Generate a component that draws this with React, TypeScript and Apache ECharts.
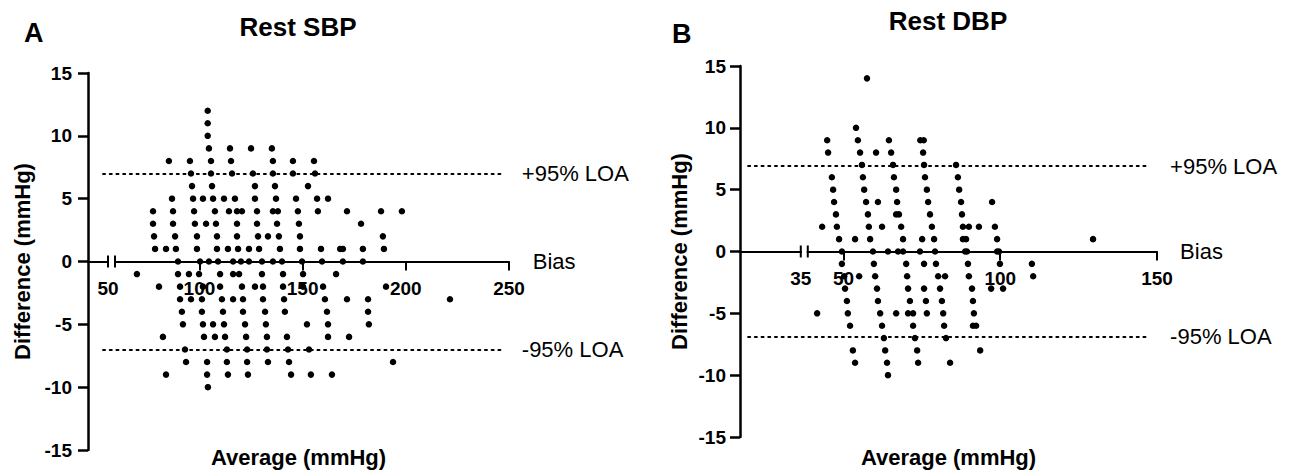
import { useEffect, useRef } from "react";
import * as echarts from "echarts";

const FONT = '"Liberation Sans", Arial, Helvetica, sans-serif';

// Panel A – Rest SBP: [average, difference]
const sbpPoints: [number, number][] = [
  [104, 12], [104, 11], [104, 10],
  [104.6, 9], [114.8, 9], [125, 9], [135.1, 9],
  [85.2, 8], [95.4, 8], [105.6, 8], [115.3, 8], [135.6, 8], [145.3, 8], [155.5, 8],
  [95.9, 7], [105.6, 7], [115.8, 7], [125.9, 7], [135.6, 7], [145.3, 7], [156, 7],
  [96.4, 6], [106.1, 6], [126.9, 6], [136.6, 6], [152.6, 6],
  [86.7, 5], [96.9, 5], [101.7, 5], [106.6, 5], [111.9, 5], [117.2, 5], [126.9, 5], [137.1, 5], [146.8, 5], [157, 5], [162.3, 5],
  [77.5, 4], [87.2, 4], [97.4, 4], [107.5, 4], [114.3, 4], [118.2, 4], [120.6, 4], [127.9, 4], [135.6, 4], [138, 4], [147.7, 4], [157.4, 4], [171.5, 4], [188, 4], [198.1, 4],
  [77.5, 3], [87.2, 3], [97.8, 3], [103.2, 3], [108, 3], [118.2, 3], [127.9, 3], [137.6, 3], [148.2, 3], [178.3, 3],
  [78, 2], [88.2, 2], [98.8, 2], [108.5, 2], [118.2, 2], [128.4, 2], [133.2, 2], [138.5, 2], [148.7, 2], [188.9, 2],
  [78.5, 1], [83.8, 1], [88.6, 1], [98.8, 1], [108.5, 1], [113.8, 1], [118.7, 1], [124, 1], [128.9, 1], [139, 1], [148.7, 1], [158.9, 1], [168.2, 1], [169.5, 1], [179.2, 1], [189.4, 1],
  [89.6, 0], [100.3, 0], [104.6, 0], [109, 0], [116.3, 0], [120.1, 0], [124, 0], [130.3, 0], [135.6, 0], [140, 0], [149.7, 0], [159.4, 0], [169.5, 0], [179.2, 0],
  [69.7, -1], [89.6, -1], [94.9, -1], [99.8, -1], [110, -1], [116.3, -1], [119.2, -1], [130.3, -1], [140.5, -1], [150.2, -1], [166.2, -1],
  [80.4, -2], [90.6, -2], [101.7, -2], [110, -2], [120.6, -2], [126.9, -2], [130.8, -2], [140.5, -2], [150.2, -2], [159.9, -2], [190.4, -2],
  [90.6, -3], [95.9, -3], [101.2, -3], [110.9, -3], [116.3, -3], [121.1, -3], [130.8, -3], [141, -3], [160.8, -3], [171.5, -3], [181.7, -3], [221.4, -3],
  [91.5, -4], [101.2, -4], [111.4, -4], [121.1, -4], [131.8, -4], [141.4, -4], [161.8, -4], [181.7, -4],
  [92, -5], [101.7, -5], [106.6, -5], [111.9, -5], [122.1, -5], [132.2, -5], [152.1, -5], [162.3, -5], [182.1, -5],
  [82.3, -6], [102.2, -6], [107.5, -6], [112.4, -6], [122.6, -6], [132.7, -6], [142.4, -6], [162.3, -6], [172.5, -6],
  [93, -7], [113.3, -7], [123.1, -7], [132.7, -7], [142.9, -7], [153.1, -7],
  [93.5, -8], [103.7, -8], [113.3, -8], [123.1, -8], [133.2, -8], [143.4, -8], [193.8, -8],
  [83.8, -9], [103.7, -9], [113.8, -9], [123.5, -9], [144.4, -9], [154, -9], [164.2, -9],
  [104.1, -10],
];

// Panel B – Rest DBP: [average, difference]
const dbpPoints: [number, number][] = [
  [57.5, 14],
  [54, 10],
  [44.8, 9], [54.6, 9], [64.5, 9], [74.5, 9], [75.6, 9],
  [45.1, 8], [55.3, 8], [60.4, 8], [65.2, 8], [75.4, 8],
  [55.9, 7], [65.8, 7], [75.7, 7], [85.9, 7],
  [46.3, 6], [56.2, 6], [66.1, 6], [76, 6], [86.5, 6],
  [46.7, 5], [56.6, 5], [66.8, 5], [76.6, 5], [86.9, 5],
  [47, 4], [57.2, 4], [61, 4], [67.1, 4], [77, 4], [87.5, 4], [97.4, 4],
  [47.6, 3], [57.8, 3], [66.8, 3], [67.7, 3], [77.6, 3], [87.8, 3],
  [43.2, 2], [47.9, 2], [58.1, 2], [62.3, 2], [68.4, 2], [78.2, 2], [88.1, 2], [90, 2], [93.2, 2], [98.3, 2],
  [48.6, 1], [53.7, 1], [58.5, 1], [69, 1], [75.1, 1], [78.9, 1], [88.1, 1], [89.1, 1], [99, 1], [129.6, 1],
  [49.5, 0], [59.4, 0], [64.2, 0], [67.4, 0], [69, 0], [74.4, 0], [79.2, 0], [88.8, 0], [89.4, 0], [99, 0], [99.6, 0],
  [49.5, -1], [59.7, -1], [70, -1], [75.7, -1], [79.5, -1], [89.7, -1], [99.9, -1], [110.1, -1],
  [50.2, -2], [55, -2], [60.1, -2], [70.3, -2], [80.2, -2], [82.4, -2], [90, -2], [110.5, -2],
  [50.5, -3], [60.7, -3], [70.6, -3], [75.7, -3], [80.8, -3], [91, -3], [97.1, -3], [100.9, -3],
  [51.1, -4], [61, -4], [71.2, -4], [76.3, -4], [81.4, -4], [91.3, -4],
  [41.6, -5], [51.4, -5], [61.7, -5], [66.8, -5], [70.6, -5], [72.2, -5], [76.6, -5], [81.8, -5], [91.6, -5],
  [52.1, -6], [62.3, -6], [72.2, -6], [82.1, -6], [91.3, -6], [92.3, -6],
  [62.9, -7], [72.8, -7], [82.7, -7],
  [53, -8], [63.3, -8], [73.5, -8], [93.6, -8],
  [53.7, -9], [63.9, -9], [73.8, -9], [84, -9],
  [64.2, -10],
];

// Reference lines (Bland–Altman)
const sbpUpperLOA = 7;
const sbpBias = 0;
const sbpLowerLOA = -7;
const dbpUpperLOA = 6.9;
const dbpBias = 0;
const dbpLowerLOA = -6.9;

// Axis ticks / labels
const sbpXTicks = [100, 150, 200, 250];
const dbpXTicks = [50, 100, 150];
const sbpBreakLabel = "50";
const dbpBreakLabel = "35";

// Axis extents and decorations (layout)
const sbpXMin = 46;
const sbpXMax = 250;
const dbpXMin = 17;
const dbpXMax = 150;
const sbpBreakAt = 57.4;
const dbpBreakAt = 37.5;
const sbpLineFrom = 53.3;
const sbpLineTo = 247;
const dbpLineFrom = 19.6;
const dbpLineTo = 147.8;

const gridA = { left: 88, top: 73, width: 421, height: 377 };
const gridB = { left: 740, top: 66, width: 417, height: 371 };

const refLine = (from: number, to: number, y: number, name: string, distance: number) => [
  { coord: [from, y], name, label: { distance } },
  { coord: [to, y] },
];

const makeY = (gridIndex: number, nameGap: number, labelMargin: number) => ({
  type: "value",
  gridIndex,
  min: -15,
  max: 15,
  interval: 5,
  name: "Difference (mmHg)",
  nameLocation: "middle",
  nameGap,
  nameTextStyle: { fontFamily: FONT, fontSize: 22, fontWeight: "bold", color: "#000" },
  axisLine: { show: true, onZero: false, lineStyle: { color: "#000", width: 2.5 } },
  axisTick: { show: true, length: 10, lineStyle: { color: "#000", width: 2.5 } },
  axisLabel: { fontFamily: FONT, fontSize: 19, fontWeight: "bold", color: "#000", margin: labelMargin },
  splitLine: { show: false },
});

// x axis sits at difference = 0, i.e. halfway up the symmetric -15..15 y range
const makeX = (gridIndex: number, min: number, max: number, ticks: number[], gridHeight: number, nameBelow: number) => ({
  type: "value",
  gridIndex,
  min,
  max,
  position: "bottom",
  offset: -gridHeight / 2,
  name: "Average (mmHg)",
  nameLocation: "middle",
  nameGap: nameBelow,
  nameTextStyle: { fontFamily: FONT, fontSize: 22, fontWeight: "bold", color: "#000" },
  axisLine: { show: true, onZero: false, lineStyle: { color: "#000", width: 2 } },
  axisTick: { show: true, length: 9, customValues: ticks, lineStyle: { color: "#000", width: 2 } },
  axisLabel: { fontFamily: FONT, fontSize: 19, fontWeight: "bold", color: "#000", margin: 17, customValues: ticks },
  splitLine: { show: false },
});

const markLineStyle = {
  silent: true,
  symbol: "none",
  animation: false,
  lineStyle: { color: "#000", type: [2, 4.7], width: 2, cap: "round" },
  label: { show: true, position: "end", formatter: "{b}", fontFamily: FONT, fontSize: 22, color: "#000" },
};

export default function App() {
  const ref = useRef<HTMLDivElement>(null);

  useEffect(() => {
    if (!ref.current) return;
    const chart = echarts.init(ref.current, undefined, { renderer: "svg" });
    chart.setOption({
      animation: false,
      backgroundColor: "#fff",
      grid: [
        { ...gridA, containLabel: false, outerBoundsMode: "none" },
        { ...gridB, containLabel: false, outerBoundsMode: "none" },
      ],
      xAxis: [
        makeX(0, sbpXMin, sbpXMax, sbpXTicks, gridA.height, 185),
        makeX(1, dbpXMin, dbpXMax, dbpXTicks, gridB.height, 195),
      ],
      yAxis: [makeY(0, 55, 16), makeY(1, 50, 14)],
      series: [
        {
          type: "scatter",
          xAxisIndex: 0,
          yAxisIndex: 0,
          data: sbpPoints,
          symbol: "circle",
          symbolSize: 6.5,
          itemStyle: { color: "#000", opacity: 1 },
          z: 5,
          markLine: {
            ...markLineStyle,
            data: [
              refLine(sbpLineFrom, sbpLineTo, sbpUpperLOA, "+95% LOA", 19),
              refLine(sbpLineFrom, sbpLineTo, sbpBias, "Bias", 30),
              refLine(sbpLineFrom, sbpLineTo, sbpLowerLOA, "-95% LOA", 19),
            ],
          },
        },
        {
          type: "scatter",
          xAxisIndex: 1,
          yAxisIndex: 1,
          data: dbpPoints,
          symbol: "circle",
          symbolSize: 6.5,
          itemStyle: { color: "#000", opacity: 1 },
          z: 5,
          markLine: {
            ...markLineStyle,
            data: [
              refLine(dbpLineFrom, dbpLineTo, dbpUpperLOA, "+95% LOA", 20),
              refLine(dbpLineFrom, dbpLineTo, dbpBias, "Bias", 30),
              refLine(dbpLineFrom, dbpLineTo, dbpLowerLOA, "-95% LOA", 20),
            ],
          },
        },
      ],
    });

    const breakMarks = (gridIndex: number, value: number, label: string, id: string) => {
      const p = chart.convertToPixel({ gridIndex } as any, [value, 0]) as number[];
      const x = p[0];
      const y = p[1];
      return [
        { type: "rect", id: id + "gap", shape: { x: x - 2.5, y: y - 2, width: 5, height: 4 }, style: { fill: "#fff" }, z: 10 },
        { type: "line", id: id + "l1", shape: { x1: x - 3.5, y1: y - 6, x2: x - 3.5, y2: y + 6 }, style: { stroke: "#000", lineWidth: 2 }, z: 11 },
        { type: "line", id: id + "l2", shape: { x1: x + 3.5, y1: y - 6, x2: x + 3.5, y2: y + 6 }, style: { stroke: "#000", lineWidth: 2 }, z: 11 },
        {
          type: "text",
          id: id + "t",
          x: x - 3.5,
          y: y + 27,
          style: { text: label, font: `bold 19px ${FONT}`, fill: "#000", textAlign: "center", textVerticalAlign: "middle" },
          z: 11,
        },
      ];
    };

    chart.setOption({
      graphic: [
        { type: "text", id: "tA", x: 298, y: 27, style: { text: "Rest SBP", font: `bold 26px ${FONT}`, fill: "#000", textAlign: "center", textVerticalAlign: "middle" } },
        { type: "text", id: "tB", x: 948, y: 21, style: { text: "Rest DBP", font: `bold 26px ${FONT}`, fill: "#000", textAlign: "center", textVerticalAlign: "middle" } },
        { type: "text", id: "pA", x: 24, y: 33, style: { text: "A", font: `bold 27px ${FONT}`, fill: "#000", textAlign: "left", textVerticalAlign: "middle" } },
        { type: "text", id: "pB", x: 672, y: 34, style: { text: "B", font: `bold 27px ${FONT}`, fill: "#000", textAlign: "left", textVerticalAlign: "middle" } },
        ...breakMarks(0, sbpBreakAt, sbpBreakLabel, "bA"),
        ...breakMarks(1, dbpBreakAt, dbpBreakLabel, "bB"),
      ],
    });

    return () => chart.dispose();
  }, []);

  return (
    <div
      ref={ref}
      style={{ position: "fixed", left: 0, top: 0, width: 1293, height: 476, background: "#fff" }}
    />
  );
}
